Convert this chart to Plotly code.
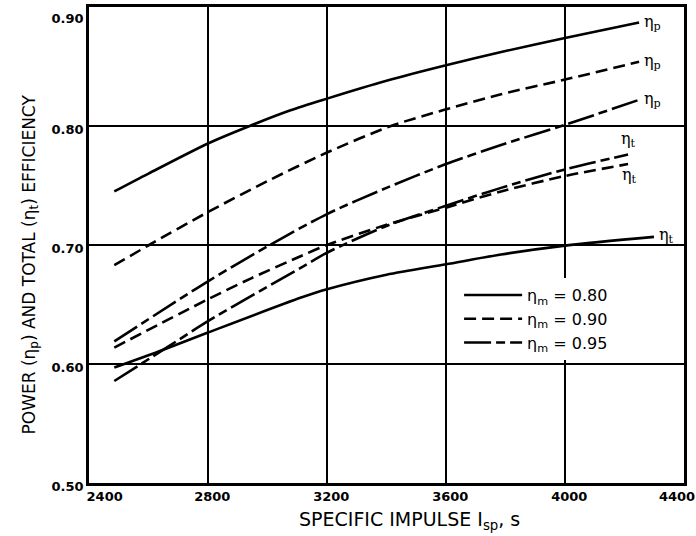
import plotly.graph_objects as go

# ---- data ----
isp_p80 = [2485, 2600, 2800, 2940, 3075, 3200, 3400, 3600, 3800, 4000, 4249]
eta_p80 = [0.745, 0.760, 0.7853, 0.800, 0.813, 0.823, 0.838, 0.851, 0.863, 0.874, 0.887]

isp_p90 = [2485, 2602, 2800, 3000, 3200, 3415, 3600, 3785, 4000, 4249]
eta_p90 = [0.683, 0.700, 0.7277, 0.7537, 0.7777, 0.800, 0.814, 0.8267, 0.839, 0.854]

isp_p95 = [2485, 2800, 3008, 3200, 3400, 3600, 3785, 4000, 4249]
eta_p95 = [0.619, 0.6695, 0.700, 0.726, 0.748, 0.768, 0.784, 0.801, 0.822]

isp_t80 = [2485, 2650, 2800, 3113, 3200, 3400, 3600, 3785, 4000, 4299]
eta_t80 = [0.597, 0.612, 0.6264, 0.6558, 0.6628, 0.675, 0.6838, 0.692, 0.6995, 0.7068]

isp_t90 = [2485, 2800, 2945, 3113, 3200, 3400, 3600, 3785, 4000, 4212]
eta_t90 = [0.6138, 0.6544, 0.672, 0.6908, 0.700, 0.717, 0.7314, 0.745, 0.758, 0.768]

isp_t95 = [2485, 2650, 2800, 3113, 3200, 3400, 3600, 3785, 4000, 4212]
eta_t95 = [0.5857, 0.612, 0.636, 0.681, 0.6935, 0.716, 0.733, 0.748, 0.7635, 0.776]

legend_names = ["η<sub>m</sub> = 0.80", "η<sub>m</sub> = 0.90", "η<sub>m</sub> = 0.95"]
x_ticks = [2400, 2800, 3200, 3600, 4000, 4400]
y_ticks = [0.50, 0.60, 0.70, 0.80, 0.90]

NB = "\u00a0"
x_ticktext = [NB * 10 + "2400", NB * 5 + "2800", NB * 5 + "3200",
              NB * 5 + "3600", NB * 5 + "4000", "4400"]
y_ticktext = ["0.50", "0.60", "0.70", "0.80", "<br>0.90"]

DASHES = ["solid", "12px,6px", "27px,5px,9px,5px"]
LW = 2.6

fig = go.Figure()
series = [
    (isp_p80, eta_p80, 0, True),
    (isp_p90, eta_p90, 1, True),
    (isp_p95, eta_p95, 2, True),
    (isp_t80, eta_t80, 0, False),
    (isp_t90, eta_t90, 1, False),
    (isp_t95, eta_t95, 2, False),
]
for xs, ys, k, show in series:
    fig.add_trace(go.Scatter(
        x=xs, y=ys, mode="lines",
        line=dict(color="black", width=LW, dash=DASHES[k], shape="spline", smoothing=0.8),
        name=legend_names[k], showlegend=show, legendrank=k + 1,
    ))

# end-of-curve labels
lab_font = dict(family="DejaVu Serif", size=16, color="black")
ends = [
    (isp_p80, eta_p80, "η<sub>p</sub>", "left", 3, 0),
    (isp_p90, eta_p90, "η<sub>p</sub>", "left", 3, 0),
    (isp_p95, eta_p95, "η<sub>p</sub>", "left", 3, 0),
    (isp_t95, eta_t95, "η<sub>t</sub>", "center", 0, 15),
    (isp_t90, eta_t90, "η<sub>t</sub>", "center", 1, -11),
    (isp_t80, eta_t80, "η<sub>t</sub>", "left", 3, 1),
]
for xs, ys, txt, anc, dx, dy in ends:
    fig.add_annotation(x=xs[-1], y=ys[-1], xref="x", yref="y", text=txt,
                       showarrow=False, xanchor=anc, xshift=dx, yshift=dy,
                       font=lab_font)

# axis titles
fig.add_annotation(xref="paper", yref="paper", x=0.539, y=-0.078, yanchor="middle",
                   text="SPECIFIC IMPULSE I<sub>sp</sub>, s", showarrow=False,
                   font=dict(family="DejaVu Sans", size=19, color="black"))
fig.add_annotation(xref="paper", yref="paper", x=-0.121, y=0.458, textangle=-90,
                   text="POWER (η<sub>p</sub>) AND TOTAL (η<sub>t</sub>) EFFICIENCY",
                   showarrow=False,
                   font=dict(family="DejaVu Sans", size=17, color="black"))

axis_common = dict(
    showgrid=True, gridcolor="black", gridwidth=2,
    showline=True, linecolor="black", linewidth=2.5, mirror=True,
    ticks="", zeroline=False, automargin=False, ticklabeloverflow="allow",
    tickfont=dict(family="DejaVu Sans", size=13, color="black", weight="bold"),
)
fig.update_xaxes(range=[2400, 4400], tickvals=x_ticks, ticktext=x_ticktext,
                 ticklabelshift=-7, **axis_common)
fig.update_yaxes(range=[0.5, 0.9], tickvals=y_ticks, ticktext=y_ticktext,
                 ticklabelshift=3, **axis_common)

fig.update_layout(
    width=696, height=536,
    margin=dict(l=89, r=12, t=7, b=53, autoexpand=False),
    paper_bgcolor="white", plot_bgcolor="white",
    legend=dict(x=0.622, y=0.4306, xanchor="left", yanchor="top",
                bgcolor="white", borderwidth=0, itemwidth=58,
                font=dict(family="DejaVu Sans", size=16, color="black"),
                tracegroupgap=0),
)

fig.write_html("out.html", config={"displayModeBar": False},
               post_script="document.body.style.margin='0';document.body.style.overflow='hidden';")
